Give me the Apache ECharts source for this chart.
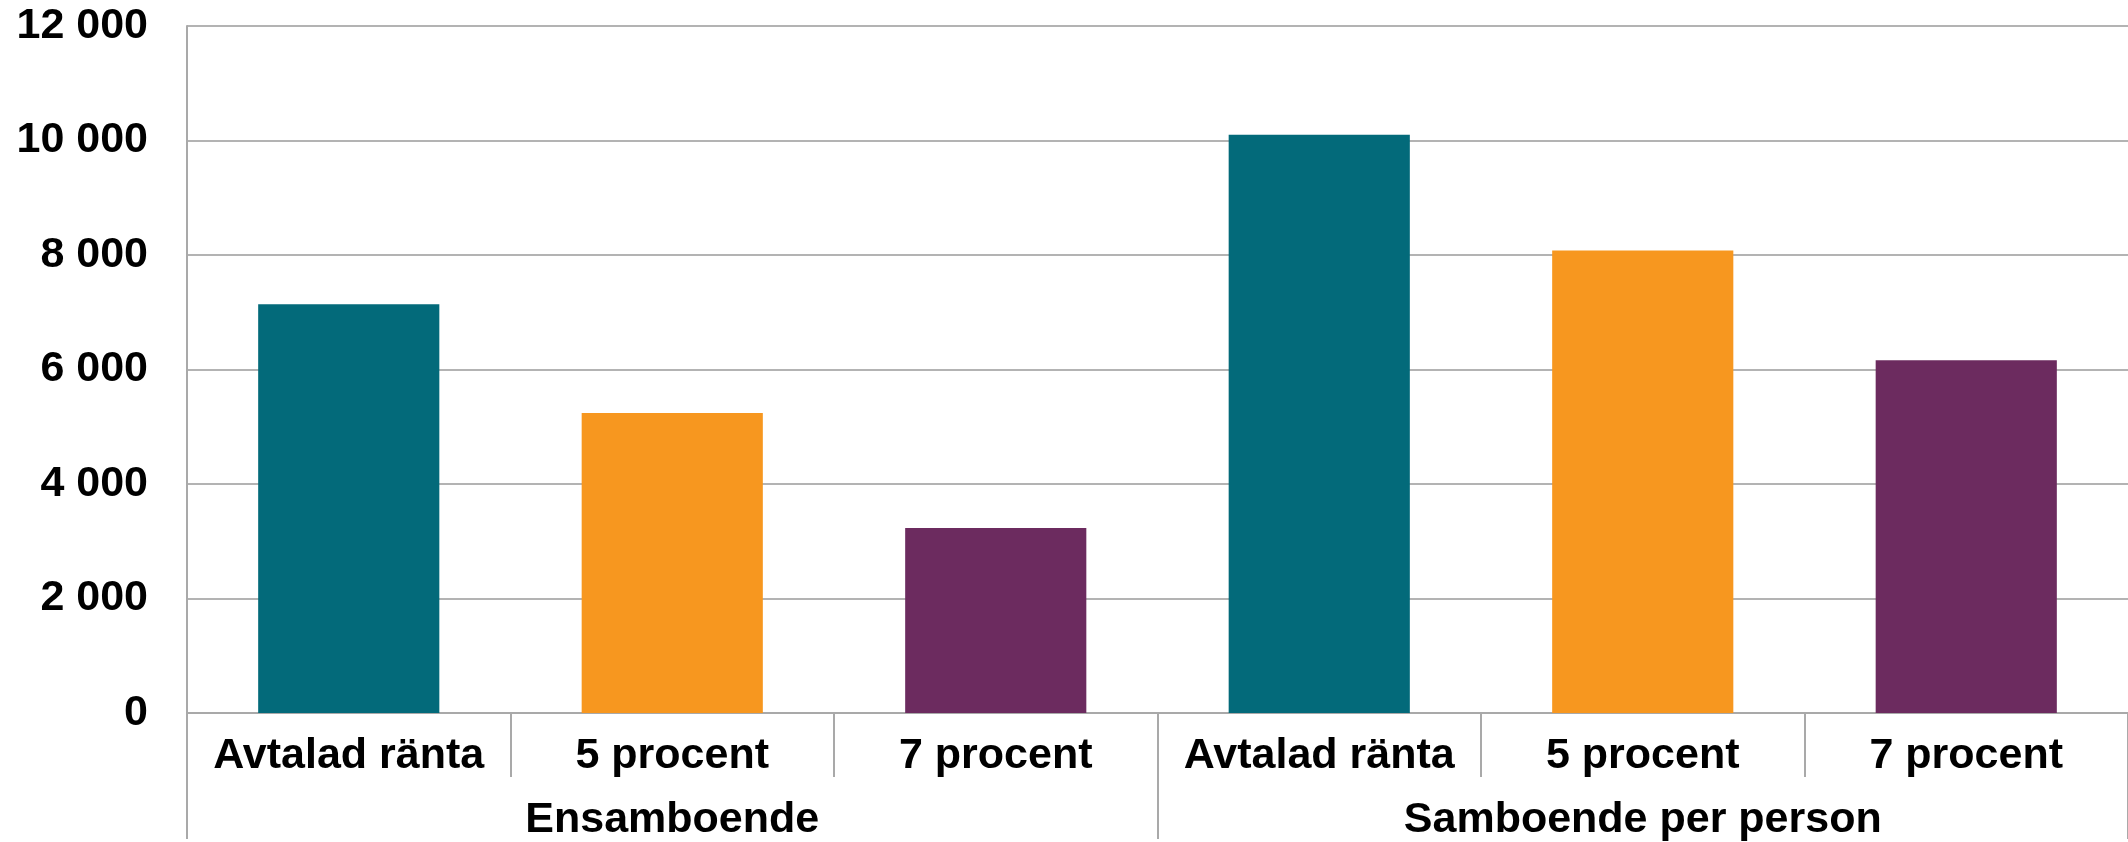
<!DOCTYPE html>
<html>
<head>
<meta charset="utf-8">
<script src="https://cdn.jsdelivr.net/npm/echarts@6/dist/echarts.min.js"></script>
<style>
html,body{margin:0;padding:0;background:#fff;}
#chart{width:2128px;height:842px;}
</style>
</head>
<body>
<div id="chart"></div>
<script>
const categories = ['Avtalad ränta', '5 procent', '7 procent', 'Avtalad ränta', '5 procent', '7 procent'];
const groups = ['Ensamboende', 'Samboende per person'];
const values = [7140, 5240, 3230, 10100, 8080, 6160];
const barColors = ['#036a7a', '#f7971f', '#6c2b5f'];
const yTicks = { min: 0, max: 12000, interval: 2000 };

const font = 'Liberation Sans, Arial, sans-serif';
const gray = '#a9a9a9';

const chart = echarts.init(document.getElementById('chart'), null, { renderer: 'canvas' });
chart.setOption({
  animation: false,
  backgroundColor: '#ffffff',
  grid: { left: 187, right: 0, top: 26, bottom: 126, containLabel: false },
  xAxis: [
    {
      type: 'category',
      data: categories,
      position: 'bottom',
      axisLine: { show: true, lineStyle: { color: gray, width: 2 } },
      axisTick: { show: true, length: 64, interval: 0, lineStyle: { color: gray, width: 2 } },
      axisLabel: { interval: 0, margin: 22, color: '#000', fontFamily: font, fontWeight: 'bold', fontSize: 43 }
    },
    {
      type: 'category',
      data: groups,
      position: 'bottom',
      axisLine: { show: false },
      axisTick: { show: true, length: 126, interval: 0, lineStyle: { color: gray, width: 2 } },
      axisLabel: { interval: 0, margin: 86, color: '#000', fontFamily: font, fontWeight: 'bold', fontSize: 43 }
    }
  ],
  yAxis: {
    type: 'value',
    min: yTicks.min,
    max: yTicks.max,
    interval: yTicks.interval,
    axisLine: { show: true, lineStyle: { color: gray, width: 2 } },
    axisTick: { show: false },
    splitLine: { show: true, lineStyle: { color: '#b3b3b3', width: 2 } },
    axisLabel: {
      margin: 39, color: '#000', fontFamily: font, fontWeight: 'bold', fontSize: 43,
      formatter: v => String(v).replace(/\B(?=(\d{3})+(?!\d))/g, ' ')
    }
  },
  series: [{
    type: 'bar',
    xAxisIndex: 0,
    barWidth: '56%',
    data: values.map((v, i) => ({ value: v, itemStyle: { color: barColors[i % barColors.length] } }))
  }]
});
</script>
</body>
</html>
